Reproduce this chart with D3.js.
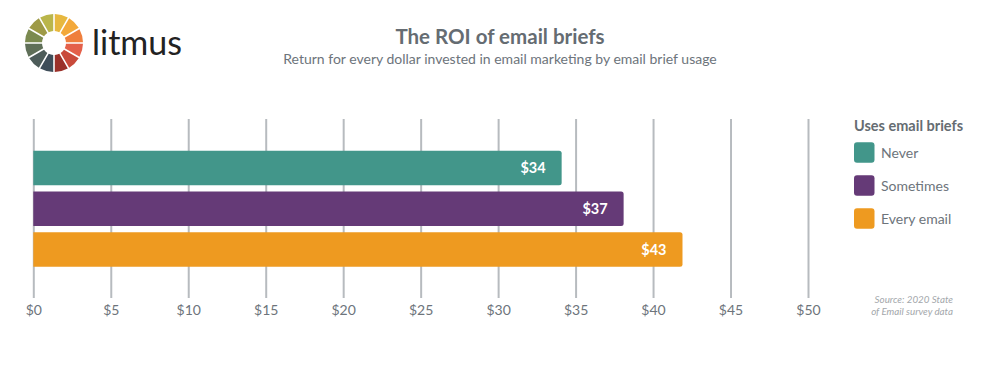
<!DOCTYPE html>
<html><head><meta charset="utf-8">
<script src="https://cdn.jsdelivr.net/npm/d3@7"></script>
<style>
html,body{margin:0;padding:0;background:#fff;}
svg{display:block;font-family:Lato,"Open Sans",sans-serif;}
</style></head>
<body><svg id="c" width="1000" height="365"></svg>
<script>
const categories = ["Never", "Sometimes", "Every email"];
const values = [34.1, 38.1, 41.9];
const valueLabels = ["$34", "$37", "$43"];
const colors = ["#42968a", "#653a77", "#ee9a20"];
const tickValues = [0, 5, 10, 15, 20, 25, 30, 35, 40, 45, 50];
const tickLabels = ["$0", "$5", "$10", "$15", "$20", "$25", "$30", "$35", "$40", "$45", "$50"];
const logoColors = ["#e7b83f", "#f3a83a", "#ef7f3d", "#e4604a", "#c94a3b", "#9b3029", "#3f4e5a", "#4d5c5a", "#5f6f58", "#7b8a50", "#9e9a46", "#bab64b"];

const svg = d3.select("#c");
const textGray = "#6d747b";

// logo
const logo = svg.append("g").attr("transform", "translate(54,43)");
const pie = d3.pie().sort(null).value(() => 1);
const arc = d3.arc().innerRadius(12).outerRadius(29).padAngle(0.05);
logo.selectAll("path").data(pie(logoColors)).join("path")
  .attr("d", arc).attr("fill", (d, i) => logoColors[i]);
svg.append("text").attr("x", 92).attr("y", 55).attr("font-size", 34)
  .attr("fill", "#222").attr("font-family", "Lato, sans-serif").text("litmus");

// title
svg.append("text").attr("x", 500).attr("y", 44).attr("text-anchor", "middle")
  .attr("font-size", 20.5).attr("font-weight", 700).attr("fill", "#656c72")
  .text("The ROI of email briefs");
svg.append("text").attr("x", 500).attr("y", 64).attr("text-anchor", "middle")
  .attr("font-size", 14).attr("fill", textGray)
  .text("Return for every dollar invested in email marketing by email brief usage");

// scales
const x = d3.scaleLinear().domain([0, 50]).range([33.3, 808]);
const y = d3.scaleBand().domain(categories).range([150.7, 266.8]).paddingInner(0.154).paddingOuter(0);

// grid + axis
const axis = d3.axisBottom(x).tickValues(tickValues)
  .tickFormat((d, i) => tickLabels[i]).tickSize(-179).tickPadding(7);
const ax = svg.append("g").attr("transform", "translate(0,298)").call(axis);
ax.select(".domain").remove();
ax.selectAll(".tick line").attr("stroke", "#b7bbbf").attr("stroke-width", 2);
ax.selectAll(".tick text").attr("font-size", 14).attr("fill", textGray)
  .attr("font-family", "Lato, sans-serif");

// bars
const bars = svg.append("g");
bars.selectAll("path").data(categories).join("path")
  .attr("d", (c, i) => {
    const x0 = x(0), x1 = x(values[i]), y0 = y(c), h = y.bandwidth(), r = 2.5;
    return `M${x0},${y0}H${x1 - r}Q${x1},${y0} ${x1},${y0 + r}V${y0 + h - r}Q${x1},${y0 + h} ${x1 - r},${y0 + h}H${x0}Z`;
  })
  .attr("fill", (c, i) => colors[i]);
bars.selectAll("text").data(categories).join("text")
  .attr("x", (c, i) => x(values[i]) - 16)
  .attr("y", c => y(c) + y.bandwidth() / 2 + 5)
  .attr("text-anchor", "end").attr("font-size", 14.5).attr("font-weight", 700)
  .attr("fill", "#fff").text((c, i) => valueLabels[i]);

// legend
svg.append("text").attr("x", 854).attr("y", 131).attr("font-size", 14.5)
  .attr("font-weight", 700).attr("fill", "#656c72").text("Uses email briefs");
const lg = svg.append("g").selectAll("g").data(categories).join("g")
  .attr("transform", (c, i) => `translate(854,${142.3 + i * 33})`);
lg.append("rect").attr("width", 20.5).attr("height", 20.5).attr("rx", 3)
  .attr("fill", (c, i) => colors[i]);
lg.append("text").attr("x", 27).attr("y", 15.5).attr("font-size", 14)
  .attr("fill", textGray).text(c => c);

// source
const src = svg.append("text").attr("text-anchor", "end").attr("font-size", 9.8)
  .attr("font-style", "italic").attr("fill", "#a3a7ab");
src.append("tspan").attr("x", 953).attr("y", 303).text("Source: 2020 State");
src.append("tspan").attr("x", 953).attr("y", 315).text("of Email survey data");
</script></body></html>
